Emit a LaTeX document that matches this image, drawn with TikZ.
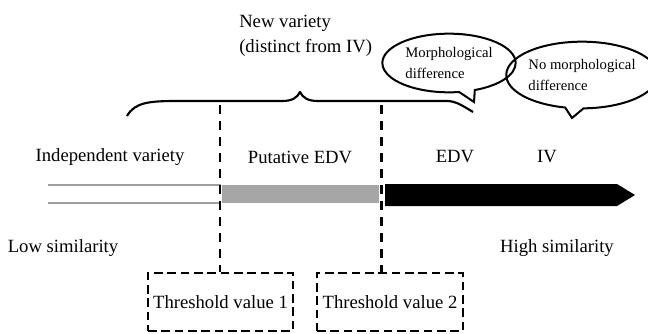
\documentclass[tikz,border=0pt]{standalone}
\usepackage{fontspec}
\setmainfont{Liberation Serif}
\usetikzlibrary{shapes.callouts,shapes.geometric}
\begin{document}
\begin{tikzpicture}[x=0.75pt,y=-0.75pt,
  lbl/.style={font=\fontsize{14}{16}\selectfont, inner sep=0pt},
  bubble/.style={ellipse callout, draw, line width=1.5pt, inner sep=0pt, align=left,
     font=\fontsize{11}{16}\selectfont, callout pointer arc=14},
  thr/.style={draw, line width=1.6pt, dash pattern=on 6.5pt off 3.5pt, minimum height=43.5pt,
     inner sep=0pt, font=\fontsize{14}{16}\selectfont},
  vdash/.style={line width=1.8pt, dash pattern=on 7pt off 5pt},
  brace/.style={line width=1.6pt, line join=round}]
\useasboundingbox (0,0) rectangle (648,333);
% texts
\node[lbl, anchor=west] (nv1) at (239,23) {New variety};
\node[lbl, anchor=west] (nv2) at (239,48) {(distinct from IV)};
\node[lbl] (ind) at (110,157) {Independent variety};
\node[lbl] (put) at (300,157) {Putative EDV};
\node[lbl] (edv) at (455,157) {EDV};
\node[lbl] (iv) at (547,157) {IV};
\node[lbl] (low) at (63,248) {Low similarity};
\node[lbl] (high) at (557,248) {High similarity};
% bubbles
\node[bubble, minimum width=100pt, minimum height=44pt, callout absolute pointer={(474,102)}]
  (b1) at (449,63) {Morphological\\difference};
\node[bubble, minimum width=94pt, minimum height=50pt, callout absolute pointer={(572,118)}]
  (b2) at (582,75) {No morphological\\difference};
% brace
\coordinate (brL) at (127,116);
\coordinate (brT) at (300,92);
\coordinate (brR) at (473,112);
\draw[brace] (brL) .. controls (135,102) and (150,101) .. (178,101) -- (282,101)
  .. controls (292,101) and (297,98) .. (brT) .. controls (303,98) and (308,101) .. (318,101)
  -- (447,101) .. controls (456,101) and (463,106) .. (brR);
% bar
\draw[line width=1.5pt, color=black!38] (48,185) -- (221,185) (48,203) -- (221,203);
\fill[black!35] (222,185) rectangle (379,203);
\fill[black] (385,184) -- (617,184) -- (635,195) -- (617,206) -- (385,206) -- cycle;
% threshold boxes
\node[thr, minimum width=108.75pt] (t1) at (220.5,302) {Threshold value 1};
\node[thr, minimum width=109.5pt] (t2) at (390,302) {Threshold value 2};
\coordinate (d1) at (220,105);
\coordinate (d2) at (381.5,105);
\draw[vdash] (d1) -- (d1 |- t1.north);
\draw[vdash] (d2) -- (d2 |- t2.north);
\end{tikzpicture}
\end{document}
